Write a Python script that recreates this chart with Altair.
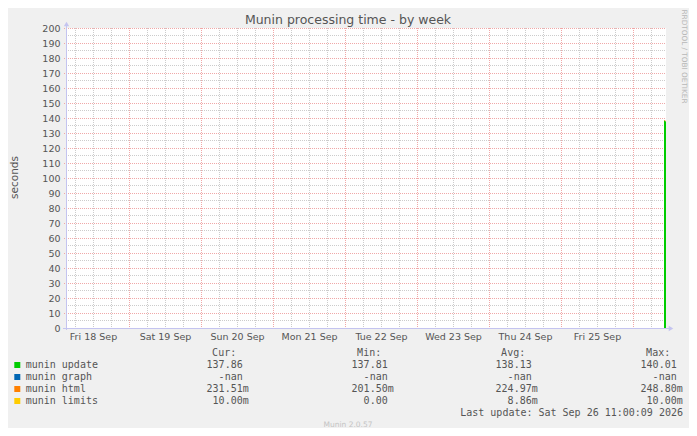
import altair as alt
import pandas as pd
import numpy as np

# ---------------- data ----------------
SERIES = ["munin update", "munin graph", "munin html", "munin limits"]
COLORS = ["#00CC00", "#0066B3", "#FF8000", "#FFCC00"]

BIN_START = ["2026-09-26T10:20:00", "2026-09-26T10:40:00"]
BIN_END = ["2026-09-26T10:40:00", "2026-09-26T11:00:00"]
UPDATE = [138.40, 137.86]
GRAPH = [np.nan, np.nan]
HTML = [0.2184, 0.2315]
LIMITS = [0.0077, 0.0100]

CUR = ["137.86", "-nan", "231.51m", "10.00m"]
MIN = ["137.81", "-nan", "201.50m", "0.00"]
AVG = ["138.13", "-nan", "224.97m", "8.86m"]
MAX = ["140.01", "-nan", "248.80m", "10.00m"]
HEADERS = ["Cur:", "Min:", "Avg:", "Max:"]

Y_TICKS = list(range(0, 201, 10))
DAY_LABELS = [18, 19, 20, 21, 22, 23, 24, 25]  # label at noon of each day (Sep)
TITLE = "Munin processing time - by week"
Y_TITLE = "seconds"
LAST_UPDATE = "Last update: Sat Sep 26 11:00:09 2026"
FOOTER = "Munin 2.0.57"
WATERMARK = "RRDTOOL / TOBI OETIKER"

# ---------------- layout / style ----------------
W, H = 600, 300
OX, OY = 66, 28  # page position of plot origin
BG = "#F0F0F0"
TXT = "#555555"
GRID = "#cccccc"
MGRID = "#f0a8a8"
AXIS = "#c4c4f0"
SANS = "DejaVu Sans"
MONO = "DejaVu Sans Mono"
CH = 6.02  # mono char width at 10px

def px(X):
    return X - OX

def py(Y):
    return Y - OY

x_scale = alt.Scale(domain=[alt.DateTime(year=2026, month=9, date=18, hours=3),
                            alt.DateTime(year=2026, month=9, date=26, hours=11)])
y_scale = alt.Scale(domain=[0, 200], nice=False, zero=False)

x_axis = alt.Axis(values=[alt.DateTime(year=2026, month=9, date=d, hours=12) for d in DAY_LABELS],
                  labelExpr="timeFormat(datum.value, '%a %d %b')",
                  ticks=False, domain=False, grid=False, title=None,
                  labelFont=SANS, labelFontSize=9.5, labelColor=TXT,
                  labelPadding=3, labelOverlap=False, labelFlush=False, labelBound=False)
y_axis = alt.Axis(values=Y_TICKS, ticks=False, domain=False, grid=False, title=None,
                  labelFont=SANS, labelFontSize=9.5, labelColor=TXT,
                  labelPadding=6, labelOverlap=False, labelFlush=False, labelBound=False)

def X(field):
    return alt.X(field, scale=x_scale, axis=x_axis, title=None)

def Y(field):
    return alt.Y(field, scale=y_scale, axis=y_axis, title=None)

layers = []

# grid lines
minor_h = pd.DataFrame({"v": [v for v in range(5, 200, 10)]})
major_h = pd.DataFrame({"v": [v for v in range(10, 201, 10)]})
six_h = pd.date_range("2026-09-18 06:00", "2026-09-26 06:00", freq="6h")
minor_v = pd.DataFrame({"t": [t for t in six_h if t.hour != 0]})
major_v = pd.DataFrame({"t": [t for t in six_h if t.hour == 0]})

layers.append(alt.Chart(minor_h).mark_rule(color=GRID, strokeDash=[1, 1], strokeWidth=1).encode(
    y=Y("v:Q"), x=alt.value(0), x2=alt.value(W)))
layers.append(alt.Chart(minor_v).mark_rule(color=GRID, strokeDash=[1, 1], strokeWidth=1, xOffset=0.5).encode(
    x=X("t:T"), y=alt.value(0), y2=alt.value(H)))
layers.append(alt.Chart(major_h).mark_rule(color=MGRID, strokeDash=[1, 1], strokeWidth=1, yOffset=0.5).encode(
    y=Y("v:Q"), x=alt.value(-2), x2=alt.value(W)))
layers.append(alt.Chart(major_v).mark_rule(color=MGRID, strokeDash=[1, 1], strokeWidth=1, xOffset=0.5).encode(
    x=X("t:T"), y=alt.value(0), y2=alt.value(H + 2)))

# stacked data
rows = []
for i in range(len(BIN_START)):
    base = 0.0
    for name, vals in zip(SERIES, [UPDATE, GRAPH, HTML, LIMITS]):
        v = vals[i]
        if v is None or (isinstance(v, float) and np.isnan(v)):
            continue
        rows.append({"start": BIN_START[i], "end": BIN_END[i], "series": name,
                     "y0": base, "y1": base + v})
        base += v
data = pd.DataFrame(rows)
data["start"] = pd.to_datetime(data["start"])
data["end"] = pd.to_datetime(data["end"])

layers.append(alt.Chart(data).mark_rect().encode(
    x=X("start:T"), x2="end:T", y=Y("y0:Q"), y2="y1:Q",
    color=alt.Color("series:N", scale=alt.Scale(domain=SERIES, range=COLORS), legend=None)))

# axis lines and arrows
one = pd.DataFrame({"a": [0]})
layers.append(alt.Chart(one).mark_rule(color=AXIS, strokeWidth=1).encode(
    x=alt.value(0.5), y=alt.value(-3), y2=alt.value(H + 2)))
layers.append(alt.Chart(one).mark_rule(color=AXIS, strokeWidth=1).encode(
    y=alt.value(H + 0.5), x=alt.value(-3), x2=alt.value(W + 3)))
layers.append(alt.Chart(one).mark_point(shape="triangle-up", filled=True, color=AXIS, size=28, opacity=1).encode(
    x=alt.value(0.5), y=alt.value(-4)))
layers.append(alt.Chart(one).mark_point(shape="triangle-right", filled=True, color=AXIS, size=28, opacity=1).encode(
    x=alt.value(W + 5), y=alt.value(H + 0.5)))

def text(t, X_, Y_, font=SANS, size=10, color=TXT, align="left", angle=0, baseline="alphabetic"):
    kw = dict(font=font, fontSize=size, color=color, align=align, baseline=baseline)
    if angle:
        kw["angle"] = angle
    return alt.Chart(pd.DataFrame({"t": [t]})).mark_text(**kw).encode(
        text="t:N", x=alt.value(px(X_)), y=alt.value(py(Y_)))

layers.append(text(TITLE, 348, 24.3, size=12.5, align="center"))
layers.append(text(Y_TITLE, 17.5, 177.5, size=10.5, align="center", angle=270))
layers.append(text(WATERMARK, 682, 9.5, size=7.3, color="#b8b8b8", align="left", angle=90))
layers.append(text(FOOTER, 348, 427, size=7.5, color="#c4c4c4", align="center"))

# legend
for i, (name, col) in enumerate(zip(SERIES, COLORS)):
    yb = 368 + 12 * i
    layers.append(alt.Chart(one).mark_rect(color=col).encode(
        x=alt.value(px(14.3)), x2=alt.value(px(20.3)),
        y=alt.value(py(yb - 6)), y2=alt.value(py(yb))))
    layers.append(text(name, 25.7, yb, font=MONO, size=10))

COL_RIGHT = [242.7, 387.7, 531.7, 676.7]
for hdr, colx, vals in zip(HEADERS, COL_RIGHT, [CUR, MIN, AVG, MAX]):
    layers.append(text(hdr, colx - 6.5, 356, font=MONO, size=10, align="right"))
    for i, v in enumerate(vals):
        right = colx + (CH if v.endswith("m") else 0)
        layers.append(text(v, right, 368 + 12 * i, font=MONO, size=10, align="right"))

layers.append(text(LAST_UPDATE, 683, 416.3, font=MONO, size=10, align="right"))

chart = alt.layer(*layers).properties(
    width=W, height=H,
    autosize=alt.AutoSizeParams(type="none"),
    padding={"left": OX - 8, "top": OY - 8, "right": 681 - W - (OX - 8), "bottom": 420 - H - (OY - 8)},
    background=BG,
).configure_view(fill="white", stroke=None)

chart.save("out.html", embed_options={"renderer": "svg", "actions": False})
